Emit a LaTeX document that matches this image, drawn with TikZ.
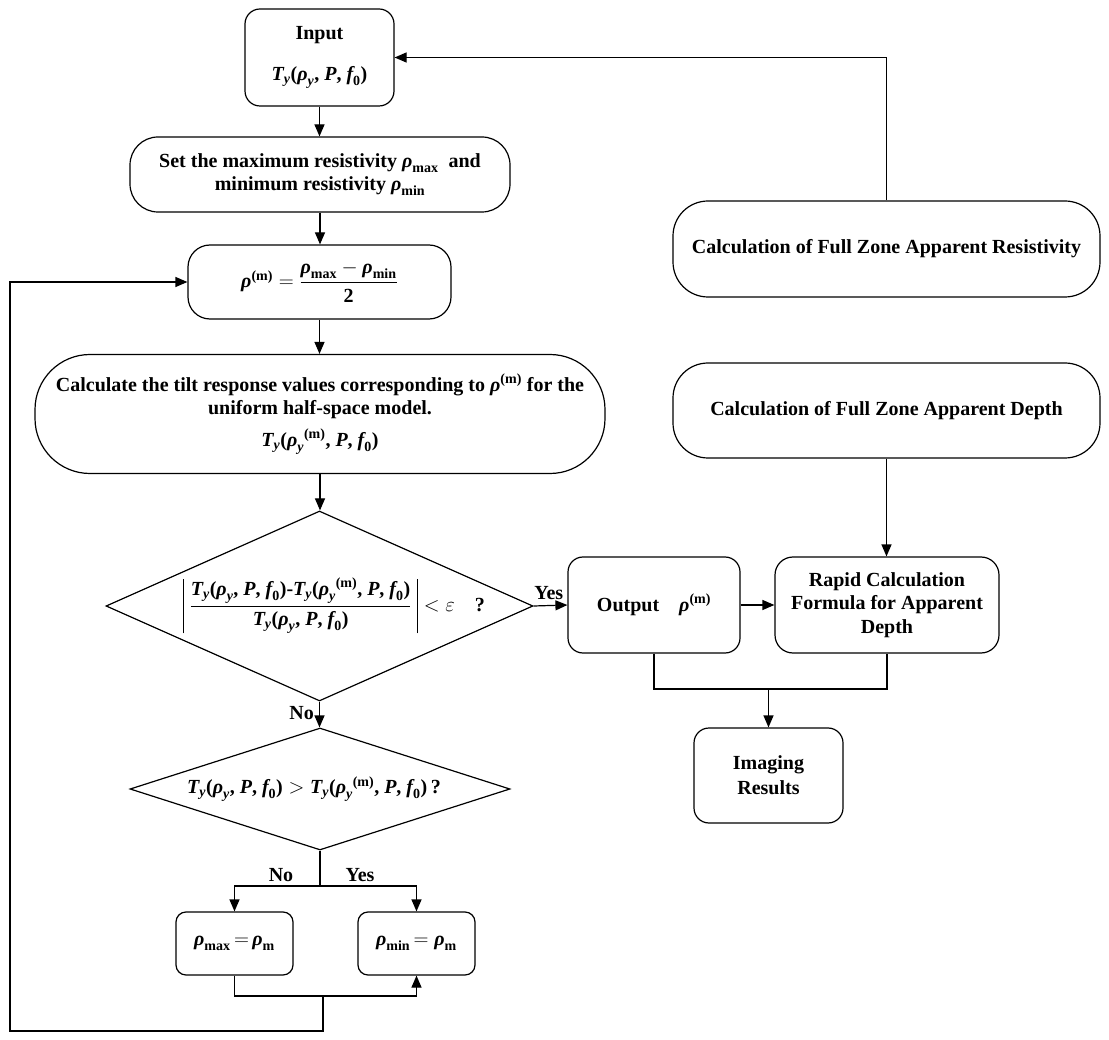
\documentclass[tikz,border=0pt]{standalone}
\usepackage{amsmath}
\usepackage{fontspec}
\setmainfont{Liberation Serif}
\usetikzlibrary{arrows.meta,shapes.geometric,calc}

\newcommand\mb[1]{\text{\bfseries\itshape #1}}
\newcommand\mr[1]{\text{\bfseries\upshape #1}}
\newcommand\TyA{\mb{T}_{\mb{y}}\mr{(}\mb{ρ}_{\mb{y}}\mr{, }\mb{P}\mr{, }\mb{f}_{\mr{0}}\mr{)}}
\newcommand\TyM{\mb{T}_{\mb{y}}\mr{(}\mb{ρ}_{\mb{y}}{}^{\mr{(m)}}\mr{, }\mb{P}\mr{, }\mb{f}_{\mr{0}}\mr{)}}
\newcommand\absbar{\vcenter{\hbox{\rule{0.9pt}{54pt}}}}

\begin{document}
\begin{tikzpicture}[x=1pt,y=-1pt,
  every node/.style={font=\fontsize{20}{23.5}\selectfont\bfseries, inner sep=0pt, align=center},
  box/.style={draw, line width=1.2pt, rectangle},
  dia/.style={draw, line width=1.2pt, diamond},
  arr/.style={-{Triangle[length=12pt,width=10pt]}, line width=1.2pt},
  ln/.style={line width=1.2pt}]
\useasboundingbox (0,0) rectangle (1109,1040);

% left column
\node[box, rounded corners=15pt, minimum width=149pt, minimum height=97pt] (inp) at (319.5,57.5) {Input\\[18pt] $\TyA$};
\node[box, rounded corners=28pt, minimum width=380pt, minimum height=75pt] (set) at (320,174.5) {Set the maximum resistivity $\mb{ρ}_{\mr{max}}$\ \ and\\ minimum resistivity $\mb{ρ}_{\mr{min}}$};
\node[box, rounded corners=22pt, minimum width=263pt, minimum height=74pt] (rho) at (319.5,282) {$\mb{ρ}^{\mr{(m)}} = \dfrac{\mb{ρ}_{\mr{max}} - \mb{ρ}_{\mr{min}}}{\mr{2}}$};
\node[box, rounded corners=55pt, minimum width=570pt, minimum height=119pt] (calc) at (320,414) {Calculate the tilt response values corresponding to $\mb{ρ}^{\mr{(m)}}$ for the\\ uniform half-space model.\\[8pt] $\TyM$};

\node[dia, minimum width=427pt, minimum height=190pt] (d1) at (319.5,606) {};
\node (d1t) at (334,606) {$\absbar\;\dfrac{\TyA\mr{-}\TyM}{\TyA}\;\absbar < \varepsilon\quad\mr{?}$};

\node[dia, minimum width=380pt, minimum height=122pt] (d2) at (320,789) {};
\node (d2t) at (314,789) {$\TyA > \TyM\,\mr{?}$};

\node[box, rounded corners=10pt, minimum width=117pt, minimum height=63pt] (lb) at (234.5,943.5) {$\mb{ρ}_{\mr{max}}\,{=}\,\mb{ρ}_{\mr{m}}$};
\node[box, rounded corners=10pt, minimum width=117pt, minimum height=63pt] (rb) at (416.5,943.5) {$\mb{ρ}_{\mr{min}}\,{=}\;\mb{ρ}_{\mr{m}}$};

% right part
\node[box, rounded corners=35pt, minimum width=427pt, minimum height=96pt] (res) at (886.5,249) {Calculation of Full Zone Apparent Resistivity};
\node[box, rounded corners=35pt, minimum width=427pt, minimum height=95pt] (dep) at (886.5,410.5) {Calculation of Full Zone Apparent Depth};
\node[box, rounded corners=15pt, minimum width=172pt, minimum height=96pt] (out) at (654,605) {Output\quad $\mb{ρ}^{\mr{(m)}}$};
\node[box, rounded corners=18pt, minimum width=224pt, minimum height=96pt] (rap) at (887,605) {Rapid Calculation\\Formula for Apparent\\Depth};
\node[box, rounded corners=15pt, minimum width=149pt, minimum height=95pt] (img) at (768.5,775.5) {Imaging\\[1.5pt]Results};

% connectors
\draw[arr] (inp.south) -- (inp.south |- set.north);
\draw[arr] (set.south) -- (set.south |- rho.north);
\draw[arr] (rho.south) -- (rho.south |- calc.north);
\draw[arr] (calc.south) -- (calc.south |- d1.north);
\draw[arr] (d1.south) -- (d1.south |- d2.north) node[pos=0.45, left=5pt] (no1) {No};
\draw[arr] (d1.east) -- (out.west) node[pos=0.45, above=5pt] (yes1) {Yes};
\draw[arr] (out.east) -- (rap.west);
\draw[arr] (dep.south) -- (dep.south |- rap.north);
\draw[arr] (res.north) |- (inp.east);

\coordinate (j1) at (768.5,689);
\draw[ln] (out.south) |- (j1) -| (rap.south);
\draw[arr] (j1) -- (img.north);

\coordinate (j2) at (320,886);
\draw[ln] (d2.south) -- (j2);
\draw[arr] (j2) -| (lb.north);
\draw[arr] (j2) -| (rb.north);
\node (no2) at (281,875) {No};
\node (yes2) at (360,875) {Yes};

\coordinate (j3) at (416.5,996);
\draw[arr] (lb.south) |- (j3) -- (rb.south);
\coordinate (j4) at (323,996);
\coordinate (j5) at (323,1031);
\coordinate (j6) at (10,1031);
\draw[arr] (j4) -- (j5) -- (j6) |- (rho.west);
\end{tikzpicture}
\end{document}
